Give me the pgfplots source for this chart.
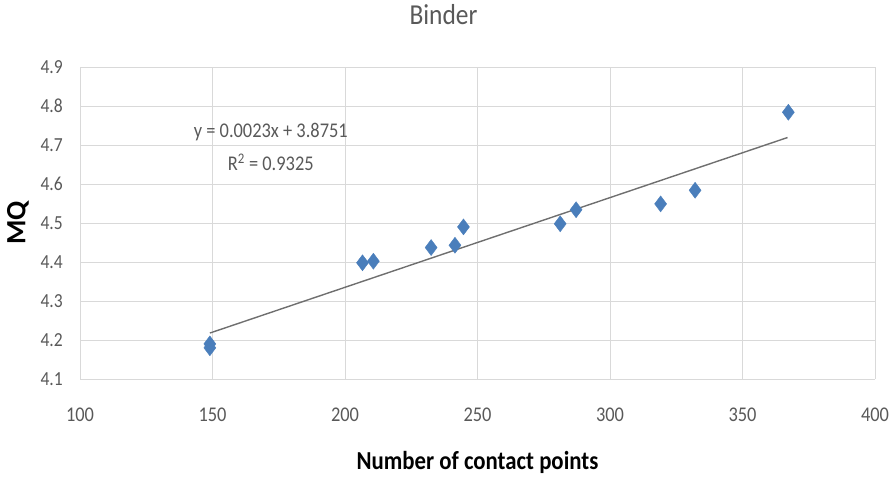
\documentclass[border=0pt]{standalone}
\usepackage{pgfplots}
\pgfplotsset{compat=1.18}
\usepackage{fontspec}
\setmainfont[FakeStretch=0.88]{Carlito}
\newfontfamily\plainfont{Carlito}
\definecolor{mk}{HTML}{4A7EBB}
\definecolor{tx}{HTML}{595959}
\definecolor{gr}{HTML}{D9D9D9}
\definecolor{tl}{HTML}{6F6F6F}
\begin{document}
\begin{tikzpicture}
\path (0bp,0bp) rectangle (889bp,476bp);
\begin{axis}[
  at={(80bp,97bp)}, anchor=south west,
  scale only axis, width=795bp, height=312bp,
  xmin=100, xmax=400, ymin=4.1, ymax=4.9,
  xtick={100,150,...,400},
  ytick={4.1,4.2,4.3,4.4,4.5,4.6,4.7,4.8,4.9},
  y tick label style={/pgf/number format/fixed, /pgf/number format/fixed zerofill, /pgf/number format/precision=1},
  /pgf/number format/assume math mode=true,
  grid=major, major grid style={gr, line width=0.8bp},
  axis line style={draw=none}, major tick length=0pt,
  tick label style={font=\fontsize{21}{24}\selectfont, text=tx, inner sep=0pt},
  yticklabel style={font=\fontsize{20}{23}\selectfont},
  xticklabel style={anchor=center, yshift=-36bp},
  yticklabel style={anchor=east, xshift=-17bp},
  title={Binder},
  title style={at={(axis description cs:0.4572,1.1505)}, anchor=center, font=\fontsize{29}{32}\selectfont, text=tx},
  xlabel={\textbf{Number of contact points}},
  xlabel style={at={(axis description cs:0.5,-0.269)}, anchor=center, font=\fontsize{26}{30}\selectfont, text=black},
  ylabel={\plainfont\bfseries MQ},
  ylabel style={at={(axis description cs:-0.078,0.5)}, anchor=center, font=\fontsize{28}{32}\selectfont, text=black},
  clip=false,
]
\addplot[only marks, mark=diamond*, mark size=8bp, mark options={fill=mk, draw=mk}] coordinates {
  (149,4.180) (149,4.190) (206.6,4.398) (210.7,4.402) (232.5,4.437)
  (241.5,4.443) (244.7,4.490) (281.2,4.498) (287.2,4.534)
  (319.1,4.549) (332.1,4.584) (367.3,4.784)
};
\addplot[tl, line width=1.4bp] coordinates {(149,4.2178) (367,4.7192)};
\node[font=\fontsize{21}{24}\selectfont, text=tx] at (axis cs:172,4.732) {y = 0.0023x + 3.8751};
\node[font=\fontsize{21}{24}\selectfont, text=tx] at (axis cs:172,4.655) {R\textsuperscript{2} = 0.9325};
\end{axis}
\end{tikzpicture}
\end{document}
